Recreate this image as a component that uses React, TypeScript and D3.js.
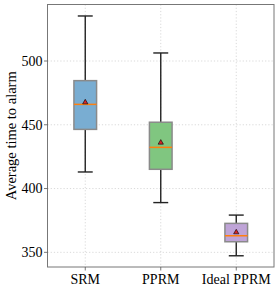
import React from "react";
import * as d3 from "d3";

const categories = ["SRM", "PPRM", "Ideal PPRM"];
const whiskerLow = [413, 389, 347.3];
const q1 = [446.4, 415.1, 358.3];
const medians = [466, 432.3, 363];
const q3 = [484.6, 452, 372.7];
const whiskerHigh = [535.3, 506.3, 379.2];
const means = [467.6, 436, 365.7];
const fills = ["#79add2", "#80c680", "#bfa4d7"];
const yTicks = [350, 400, 450, 500];

const W = 279;
const H = 291;
const m = { left: 47.5, top: 4.5, right: 5, bottom: 24 };

export default function App() {
  const x = d3
    .scaleLinear()
    .domain([0.5, 3.5])
    .range([m.left, W - m.right]);
  const y = d3
    .scaleLinear()
    .domain([338.5, 544.3])
    .range([H - m.bottom, m.top]);

  const boxW = (x(2) - x(1)) * 0.3;
  const capW = boxW * 0.66;
  const font = "'Liberation Serif', 'DejaVu Serif', serif";
  const tri = d3.symbol().type(d3.symbolTriangle).size(12);

  return (
    <svg
      width={W}
      height={H}
      style={{ position: "absolute", left: 0, top: 0, background: "#fff" }}
      fontFamily={font}
    >
      {/* grid */}
      {yTicks.map((t) => (
        <line
          key={"gy" + t}
          x1={m.left}
          x2={W - m.right}
          y1={y(t)}
          y2={y(t)}
          stroke="#cfcfcf"
          strokeWidth={0.8}
          strokeDasharray="1.2,2"
        />
      ))}
      {categories.map((c, i) => (
        <line
          key={"gx" + c}
          x1={x(i + 1)}
          x2={x(i + 1)}
          y1={m.top}
          y2={H - m.bottom}
          stroke="#cfcfcf"
          strokeWidth={0.8}
          strokeDasharray="1.2,2"
        />
      ))}

      {/* boxes */}
      {categories.map((c, i) => {
        const cx = x(i + 1);
        return (
          <g key={c}>
            <line x1={cx} x2={cx} y1={y(q3[i])} y2={y(whiskerHigh[i])} stroke="#222" strokeWidth={1.4} />
            <line x1={cx} x2={cx} y1={y(q1[i])} y2={y(whiskerLow[i])} stroke="#222" strokeWidth={1.4} />
            <line x1={cx - capW / 2} x2={cx + capW / 2} y1={y(whiskerHigh[i])} y2={y(whiskerHigh[i])} stroke="#222" strokeWidth={1.4} />
            <line x1={cx - capW / 2} x2={cx + capW / 2} y1={y(whiskerLow[i])} y2={y(whiskerLow[i])} stroke="#222" strokeWidth={1.4} />
            <rect
              x={cx - boxW / 2}
              y={y(q3[i])}
              width={boxW}
              height={y(q1[i]) - y(q3[i])}
              fill={fills[i]}
              stroke="#8a8a8a"
              strokeWidth={1.5}
            />
            <line x1={cx - boxW / 2} x2={cx + boxW / 2} y1={y(medians[i])} y2={y(medians[i])} stroke="#ff7f0e" strokeWidth={1.5} />
            <path
              d={tri() as string}
              transform={`translate(${cx},${y(means[i])})`}
              fill="#d62728"
              stroke="#000"
              strokeWidth={0.6}
            />
          </g>
        );
      })}

      {/* spines */}
      <rect
        x={m.left}
        y={m.top}
        width={W - m.right - m.left}
        height={H - m.bottom - m.top}
        fill="none"
        stroke="#777"
        strokeWidth={1}
      />

      {/* y ticks */}
      {yTicks.map((t) => (
        <g key={"ty" + t}>
          <line x1={m.left - 3.5} x2={m.left} y1={y(t)} y2={y(t)} stroke="#555" strokeWidth={0.8} />
          <text
            x={m.left - 5}
            y={y(t)}
            dy="0.35em"
            textAnchor="end"
            fontSize={14}
            fill="#000"
          >
            {t}
          </text>
        </g>
      ))}

      {/* x ticks */}
      {categories.map((c, i) => (
        <g key={"tx" + c}>
          <line x1={x(i + 1)} x2={x(i + 1)} y1={H - m.bottom} y2={H - m.bottom + 3.5} stroke="#555" strokeWidth={0.8} />
          <text
            x={x(i + 1)}
            y={H - m.bottom + 17}
            textAnchor="middle"
            fontSize={14}
            fill="#000"
          >
            {c}
          </text>
        </g>
      ))}

      <text
        transform={`translate(16,${(m.top + H - m.bottom) / 2}) rotate(-90)`}
        textAnchor="middle"
        fontSize={14.5}
        fill="#000"
      >
        Average time to alarm
      </text>
    </svg>
  );
}
